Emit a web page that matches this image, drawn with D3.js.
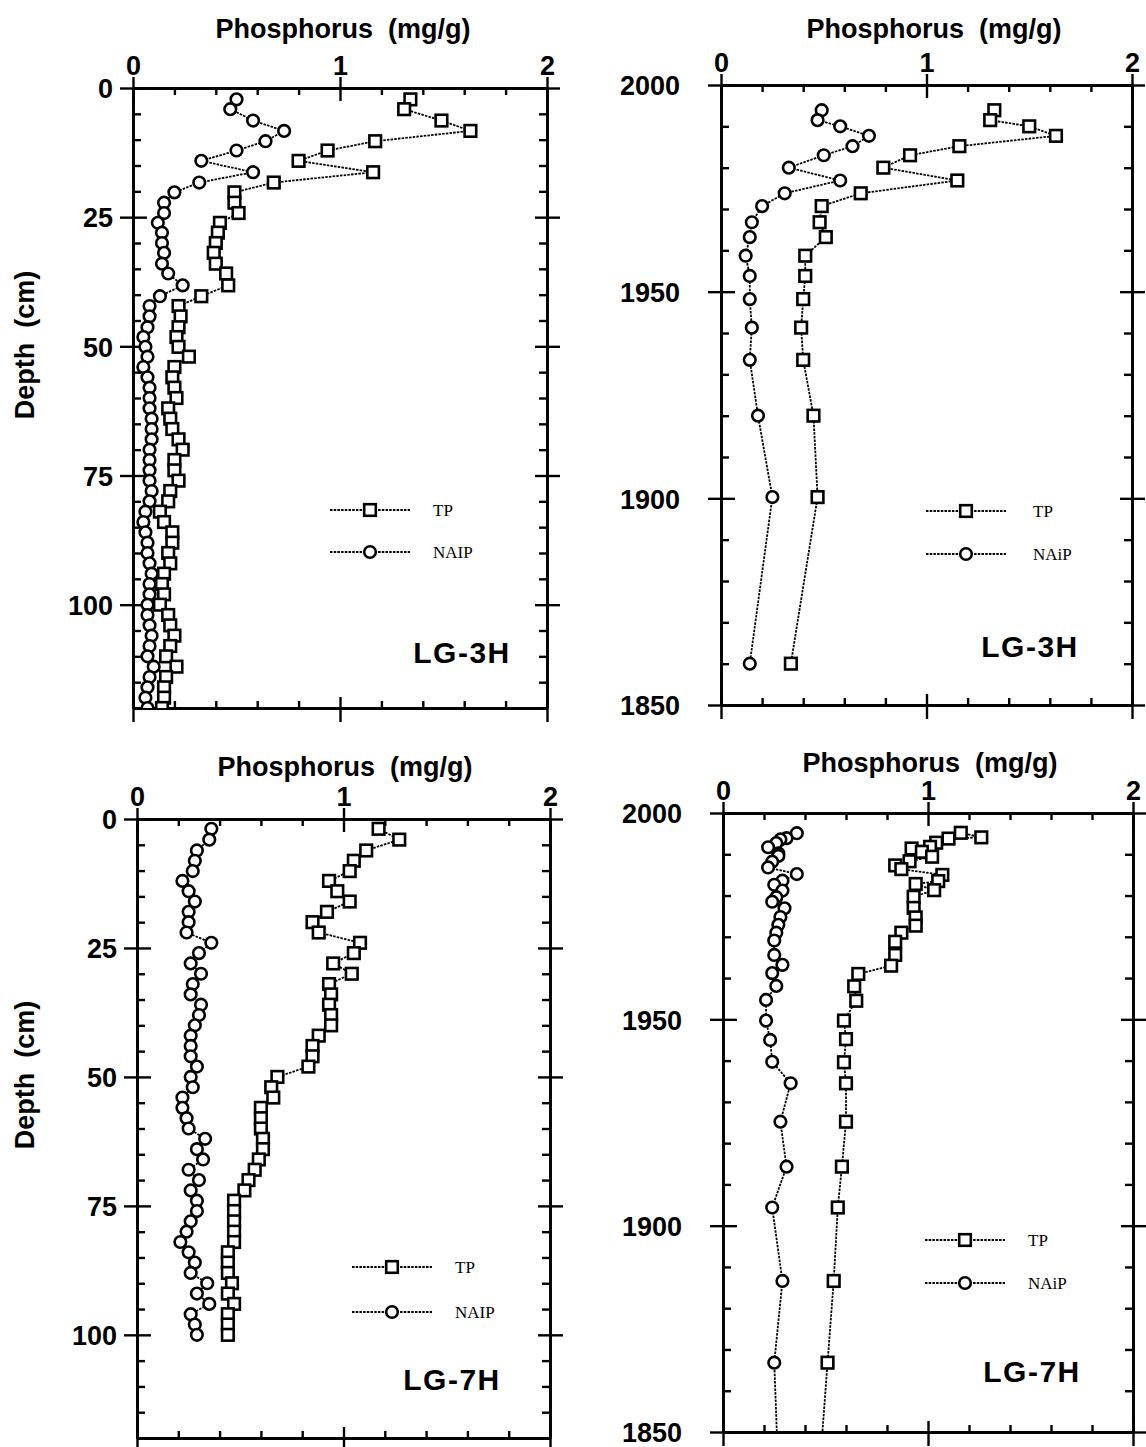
<!DOCTYPE html>
<html><head><meta charset="utf-8">
<script src="https://cdn.jsdelivr.net/npm/d3@7"></script>
<style>
html,body{margin:0;padding:0;background:#fff;}
svg{display:block;}
</style></head>
<body>
<svg id="chart" width="1146" height="1447"></svg>
<script>
// ---------------- DATA ----------------
const xTicksMajor = [0, 1, 2];
const depthTicks = [0, 25, 50, 75, 100];
const yearTicks = [2000, 1950, 1900, 1850];
const seriesNames = ["TP", "NAIP"];
const seriesNames2 = ["TP", "NAiP"];

// LG-3H by depth (cm)
const lg3hDepth = [2.2,4.1,6.3,8.3,10.3,12.1,14.1,16.3,18.3,20.2,22.2,24.2,26.1,28.0,30.0,31.9,34.0,35.9,38.2,40.3,42.2,44.2,46.3,48.2,50.1,52,54,56,58,60,62,64,66,68,70,72,74,76,78,80,82,84,86,88,90,92,94,96,98,100,102,104,106,108,110,112,114,116,118,120];
const lg3hTP = [1.34,1.31,1.49,1.63,1.17,0.94,0.80,1.16,0.68,0.49,0.49,0.51,0.42,0.41,0.40,0.39,0.40,0.45,0.46,0.33,0.22,0.23,0.22,0.21,0.22,0.27,0.20,0.19,0.20,0.21,0.17,0.18,0.19,0.22,0.24,0.20,0.20,0.22,0.18,0.17,0.13,0.15,0.19,0.19,0.17,0.18,0.15,0.14,0.15,0.13,0.17,0.18,0.20,0.18,0.16,0.21,0.16,0.15,0.15,0.14];
const lg3hNAIP = [0.50,0.47,0.58,0.73,0.64,0.50,0.33,0.58,0.32,0.20,0.15,0.15,0.12,0.14,0.14,0.15,0.14,0.17,0.24,0.13,0.08,0.08,0.07,0.05,0.06,0.07,0.05,0.07,0.08,0.08,0.08,0.09,0.09,0.09,0.08,0.08,0.08,0.08,0.09,0.08,0.06,0.05,0.06,0.07,0.07,0.08,0.09,0.08,0.08,0.07,0.07,0.08,0.09,0.08,0.07,0.10,0.08,0.07,0.06,0.07];

// LG-3H by year
const lg3hYear = [1993.9,1991.5,1990.0,1987.7,1985.2,1983.0,1980.0,1976.9,1973.8,1970.7,1966.8,1963.2,1958.7,1953.8,1948.2,1941.3,1933.5,1920,1900.3,1860];
const lg3hYearTP = [1.33,1.31,1.50,1.63,1.16,0.92,0.79,1.15,0.68,0.49,0.48,0.51,0.41,0.41,0.40,0.39,0.40,0.45,0.47,0.34];
const lg3hYearNAiP = [0.49,0.47,0.58,0.72,0.64,0.50,0.33,0.58,0.31,0.20,0.15,0.14,0.12,0.14,0.14,0.15,0.14,0.18,0.25,0.14];

// LG-7H by depth (cm)
const lg7hDepth = [1.9,4.0,6.1,8.1,10.1,12,14,16,18,20,22,24,26,28,30,32,34,36,38,40,42,44,46,48,50,52,54,56,58,60,62,64,66,68,70,72,74,76,78,80,82,84,86,88,90,92,94,96,98,100];
const lg7hTP = [1.17,1.27,1.11,1.05,1.03,0.93,0.97,1.03,0.92,0.85,0.88,1.08,1.05,0.95,1.04,0.93,0.94,0.93,0.94,0.94,0.88,0.85,0.85,0.83,0.68,0.65,0.66,0.60,0.60,0.60,0.61,0.61,0.59,0.57,0.54,0.52,0.47,0.47,0.47,0.47,0.47,0.44,0.44,0.44,0.46,0.44,0.47,0.44,0.44,0.44];
const lg7hNAIP = [0.36,0.35,0.29,0.28,0.27,0.22,0.25,0.28,0.25,0.25,0.24,0.36,0.30,0.26,0.31,0.27,0.26,0.31,0.30,0.28,0.26,0.26,0.26,0.29,0.26,0.27,0.22,0.22,0.24,0.25,0.33,0.29,0.32,0.25,0.30,0.26,0.29,0.29,0.26,0.24,0.21,0.25,0.28,0.26,0.34,0.29,0.35,0.26,0.28,0.29];

// LG-7H by year
const lg7hYearTPx = [1995.2,1994.1,1993.8,1992.8,1991.8,1991.4,1990.6,1989.4,1988.3,1987.3,1986.4,1985.0,1983.5,1982.8,1981.3,1979.7,1977.0,1974.7,1972.7,1971.0,1968.8,1965.6,1963.0,1961.0,1958.0,1954.5,1949.7,1945.2,1939.6,1934.5,1925.2,1914.3,1904.4,1886.6,1866.8,1840];
const lg7hYearTP = [1.16,1.26,1.10,1.04,1.01,0.92,0.97,1.02,0.91,0.84,0.87,1.07,1.05,0.94,1.03,0.93,0.93,0.94,0.94,0.87,0.84,0.84,0.82,0.66,0.64,0.65,0.59,0.60,0.59,0.60,0.60,0.58,0.56,0.54,0.51,0.47];
const lg7hYearNAiPx = [1995.1,1993.9,1993.6,1992.7,1991.7,1990.2,1989.6,1988.2,1986.8,1985.2,1983.6,1982.6,1981.2,1979.6,1978.5,1976.9,1974.8,1972.9,1971.0,1969.1,1965.6,1963.2,1961.2,1958.1,1954.7,1949.7,1945.0,1939.7,1934.5,1925.2,1914.3,1904.4,1886.6,1866.8,1840];
const lg7hYearNAiP = [0.36,0.31,0.28,0.26,0.22,0.27,0.27,0.24,0.22,0.36,0.29,0.25,0.29,0.26,0.24,0.30,0.28,0.27,0.26,0.25,0.25,0.29,0.24,0.26,0.21,0.21,0.23,0.24,0.33,0.28,0.31,0.24,0.29,0.25,0.27];

// ---------------- DRAWING ----------------
const FONT = "'Liberation Sans', Arial, Helvetica, sans-serif";
const SERIF = "'Liberation Serif', 'Times New Roman', serif";
const svg = d3.select("#chart");

const panels = [
  {id:"p1", kind:"depth", x0:133, x1:547, yT:88, yB:708, site:"LG-3H", names:seriesNames,
   series:[{y:lg3hDepth, v:lg3hTP, m:"sq"}, {y:lg3hDepth, v:lg3hNAIP, m:"ci"}],
   title:{x:343, y:38}, lab:{x:25, y:345}, labPad:7,
   leg:{x1:330, x2:410, yTP:510, yN:552, tx:433}, siteLab:{x:462, y:663}},
  {id:"p2", kind:"year", x0:721, x1:1132, yT:85, yB:705, site:"LG-3H", names:seriesNames2,
   series:[{y:lg3hYear, v:lg3hYearTP, m:"sq"}, {y:lg3hYear, v:lg3hYearNAiP, m:"ci"}],
   title:{x:934, y:38}, labPad:28,
   leg:{x1:926, x2:1006, yTP:511, yN:554, tx:1033}, siteLab:{x:1030, y:657}},
  {id:"p3", kind:"depth", x0:137, x1:550, yT:819, yB:1438, site:"LG-7H", names:seriesNames,
   series:[{y:lg7hDepth, v:lg7hTP, m:"sq"}, {y:lg7hDepth, v:lg7hNAIP, m:"ci"}],
   title:{x:345, y:776}, lab:{x:25, y:1075}, labPad:7,
   leg:{x1:352, x2:432, yTP:1267, yN:1312, tx:455}, siteLab:{x:452, y:1390}},
  {id:"p4", kind:"year", x0:723, x1:1133, yT:813, yB:1432, site:"LG-7H", names:seriesNames2,
   series:[{y:lg7hYearTPx, v:lg7hYearTP, m:"sq"}, {y:lg7hYearNAiPx, v:lg7hYearNAiP, m:"ci"}],
   title:{x:930, y:772}, labPad:28,
   leg:{x1:925, x2:1005, yTP:1240, yN:1283, tx:1028}, siteLab:{x:1032, y:1382}}
];

const SW = 2.4;       // axis stroke
const LINE_DASH = "2.5,1.2";

function styleAxis(g){
  g.selectAll("path.domain").attr("stroke","#000").attr("stroke-width",SW);
  g.selectAll(".tick line").attr("stroke","#000").attr("stroke-width",SW);
  g.selectAll("text").attr("fill","#000").attr("font-family",FONT).attr("font-weight","bold").attr("font-size",27);
}

function drawSquare(g, cx, cy){
  g.append("rect").attr("x",cx-5.8).attr("y",cy-5.8).attr("width",11.6).attr("height",11.6)
    .attr("fill","#fff").attr("stroke","#000").attr("stroke-width",2.6);
}
function drawCircle(g, cx, cy){
  g.append("circle").attr("cx",cx).attr("cy",cy).attr("r",5.8)
    .attr("fill","#fff").attr("stroke","#000").attr("stroke-width",2.6);
}

panels.forEach(p => {
  const x = d3.scaleLinear().domain([0,2]).range([p.x0,p.x1]);
  const y = p.kind === "depth"
    ? d3.scaleLinear().domain([0,120]).range([p.yT,p.yB])
    : d3.scaleLinear().domain([2000,1850]).range([p.yT,p.yB]);
  const xMinor = d3.range(0, 2.0001, 0.2).filter(v => Math.abs(v - Math.round(v)) > 1e-6);
  const yMajor = p.kind === "depth" ? depthTicks : yearTicks;
  const yMinor = p.kind === "depth"
    ? d3.range(0,120.001,5).filter(v => v % 25 !== 0)
    : d3.range(1850,2000.001,10).filter(v => v % 50 !== 0);
  const W = p.x1 - p.x0, H = p.yB - p.yT;
  const g = svg.append("g");

  svg.append("clipPath").attr("id","clip-"+p.id).append("rect")
    .attr("x",p.x0).attr("y",p.yT).attr("width",W).attr("height",H);

  // ---- top axis
  const top = g.append("g").attr("transform",`translate(0,${p.yT})`);
  top.call(d3.axisTop(x).tickValues(xTicksMajor).tickSize(11).tickSizeOuter(0).tickPadding(2).tickFormat(d3.format("d")));
  top.append("g").call(d3.axisTop(x).tickValues(xTicksMajor).tickSize(-13).tickSizeOuter(0).tickFormat(""));
  top.append("g").call(d3.axisTop(x).tickValues(xMinor).tickSize(-7).tickSizeOuter(0).tickFormat(""));
  styleAxis(top);
  // ---- bottom axis
  const bot = g.append("g").attr("transform",`translate(0,${p.yB})`);
  bot.call(d3.axisBottom(x).tickValues(xTicksMajor).tickSize(14).tickSizeOuter(0).tickFormat(""));
  bot.append("g").call(d3.axisBottom(x).tickValues(xTicksMajor).tickSize(-11).tickSizeOuter(0).tickFormat(""));
  bot.append("g").call(d3.axisBottom(x).tickValues(xMinor).tickSize(-7).tickSizeOuter(0).tickFormat(""));
  styleAxis(bot);
  // ---- left axis
  const lft = g.append("g").attr("transform",`translate(${p.x0},0)`);
  lft.call(d3.axisLeft(y).tickValues(yMajor).tickSize(13).tickSizeOuter(0).tickPadding(p.labPad).tickFormat(d3.format("d")));
  lft.append("g").call(d3.axisLeft(y).tickValues(yMajor).tickSize(-14).tickSizeOuter(0).tickFormat(""));
  lft.append("g").call(d3.axisLeft(y).tickValues(yMinor).tickSize(-8).tickSizeOuter(0).tickFormat(""));
  styleAxis(lft);
  lft.selectAll(".tick text").attr("dy","0.36em");
  // ---- right axis
  const rgt = g.append("g").attr("transform",`translate(${p.x1},0)`);
  rgt.call(d3.axisRight(y).tickValues(yMajor).tickSize(13).tickSizeOuter(0).tickFormat(""));
  rgt.append("g").call(d3.axisRight(y).tickValues(yMajor).tickSize(-12).tickSizeOuter(0).tickFormat(""));
  rgt.append("g").call(d3.axisRight(y).tickValues(yMinor).tickSize(-8).tickSizeOuter(0).tickFormat(""));
  styleAxis(rgt);

  // ---- title
  g.append("text").attr("x",p.title.x).attr("y",p.title.y).attr("text-anchor","middle")
    .attr("font-family",FONT).attr("font-weight","bold").attr("font-size",27)
    .style("white-space","pre").text("Phosphorus  (mg/g)");
  // ---- y label
  if (p.lab){
    g.append("text").attr("transform",`translate(${p.lab.x},${p.lab.y}) rotate(-90)`)
      .attr("text-anchor","middle").attr("dy","0.35em")
      .attr("font-family",FONT).attr("font-weight","bold").attr("font-size",27)
      .style("white-space","pre").text("Depth  (cm)");
  }

  // ---- data
  const dg = g.append("g").attr("clip-path",`url(#clip-${p.id})`);
  p.series.forEach(s => {
    const pts = s.y.map((yy,i) => [x(s.v[i]), y(yy)]);
    dg.append("path").attr("d", d3.line()(pts)).attr("fill","none")
      .attr("stroke","#000").attr("stroke-width",1.8).attr("stroke-dasharray",LINE_DASH);
  });
  p.series.forEach(s => {
    s.y.forEach((yy,i) => {
      if (s.m === "sq") drawSquare(dg, x(s.v[i]), y(yy));
      else drawCircle(dg, x(s.v[i]), y(yy));
    });
  });

  // ---- legend
  const L = p.leg;
  [[L.yTP,"sq",p.names[0]],[L.yN,"ci",p.names[1]]].forEach(([ly,m,name]) => {
    g.append("line").attr("x1",L.x1).attr("x2",L.x2).attr("y1",ly).attr("y2",ly)
      .attr("stroke","#000").attr("stroke-width",1.8).attr("stroke-dasharray",LINE_DASH);
    const cx = (L.x1+L.x2)/2;
    if (m === "sq") drawSquare(g, cx, ly); else drawCircle(g, cx, ly);
    g.append("text").attr("x",L.tx).attr("y",ly).attr("dy","0.35em")
      .attr("font-family",SERIF).attr("font-size",17).text(name);
  });

  // ---- site label
  g.append("text").attr("x",p.siteLab.x).attr("y",p.siteLab.y).attr("text-anchor","middle")
    .attr("font-family",FONT).attr("font-weight","bold").attr("font-size",30)
    .attr("letter-spacing",1.5).text(p.site);
});
</script>
</body></html>
